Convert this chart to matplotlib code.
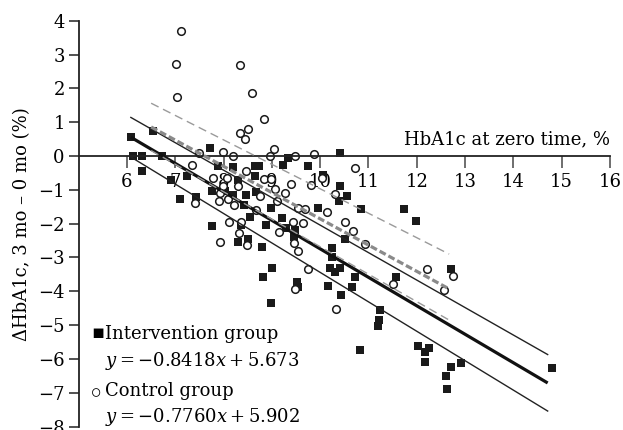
import numpy as np
import matplotlib
matplotlib.use('Agg')
from matplotlib import pyplot as plt

# intervention group (filled squares)
int_x = [6.08, 6.12, 6.31, 6.31, 6.53, 6.72, 7.71, 6.92, 7.25, 7.09,
         7.42, 7.89, 8.19, 7.77, 8.02, 8.29, 8.19, 8.46, 8.42, 8.66,
         8.74, 8.66, 8.67, 8.55, 8.98, 9.22, 9.33, 9.74, 9.96, 9.21,
         10.40, 10.05, 10.40, 10.55, 10.38, 10.85, 11.73, 11.98, 10.51, 10.24,
         10.24, 10.20, 10.40, 10.30, 10.73, 10.17, 10.65, 10.44, 11.58, 11.23,
         11.21, 11.19, 10.82, 12.02, 12.26, 12.16, 12.16, 12.70, 12.91, 12.60,
         12.62, 12.70, 14.79, 7.77, 8.37, 8.29, 8.50, 8.80, 8.87, 9.29,
         9.48, 9.46, 9.00, 8.81, 8.98, 9.53, 9.55]
int_y = [0.55, 0.00, 0.00, -0.45, 0.74, 0.00, 0.24, -0.71, -0.59, -1.28,
         -1.21, -0.29, -0.32, -1.04, -1.04, -0.71, -1.16, -1.15, -1.46, -0.29,
         -0.29, -0.59, -1.06, -1.81, -1.55, -0.27, -0.07, -0.29, -1.55, -1.84,
         0.10, -0.56, -0.89, -1.18, -1.33, -1.58, -1.58, -1.92, -2.46, -2.73,
         -3.00, -3.32, -3.32, -3.42, -3.59, -3.83, -3.88, -4.12, -3.59, -4.54,
         -4.85, -5.03, -5.75, -5.63, -5.69, -5.79, -6.10, -6.25, -6.13, -6.49,
         -6.90, -3.35, -6.28, -2.07, -2.04, -2.55, -2.46, -2.70, -2.04, -2.14,
         -2.19, -2.39, -3.30, -3.59, -4.36, -3.72, -3.88]

# control group (open circles)
ctl_x = [7.12, 7.01, 7.04, 8.33, 8.58, 8.84, 8.34, 8.50, 8.45, 9.04,
         8.96, 9.48, 9.88, 7.50, 7.99, 8.20, 7.35, 7.79, 8.08, 8.46,
         8.83, 8.98, 9.06, 9.40, 9.28, 9.80, 7.98, 8.30, 8.75, 9.10,
         7.91, 8.10, 8.22, 7.40, 8.67, 9.55, 9.68, 10.73, 10.04, 10.31,
         10.15, 9.64, 10.51, 10.67, 10.93, 9.55, 9.74, 10.33, 11.50, 12.22,
         12.76, 12.57, 8.12, 8.37, 8.31, 7.93, 8.48, 9.15, 9.43, 9.46,
         9.48, 7.93]
ctl_y = [3.70, 2.71, 1.73, 2.68, 1.87, 1.09, 0.67, 0.79, 0.49, 0.21,
         0.01, -0.01, 0.05, 0.10, 0.13, 0.01, -0.27, -0.66, -0.64, -0.44,
         -0.68, -0.68, -0.97, -0.82, -1.09, -0.87, -0.88, -0.88, -1.18, -1.32,
         -1.34, -1.28, -1.45, -1.40, -1.60, -1.55, -1.58, -0.35, -0.66, -1.13,
         -1.66, -1.99, -1.95, -2.22, -2.61, -2.82, -3.35, -4.52, -3.77, -3.35,
         -3.55, -3.97, -1.94, -1.94, -2.27, -2.53, -2.63, -2.26, -1.94, -2.58,
         -3.94, -1.10]

# fitted lines and band ends
int_slope, int_icpt = -0.8418, 5.673
int_fit_x = np.array([6.08, 14.71])
int_upper = [1.14, -5.87]
int_lower = [-0.03, -7.54]

ctl_slope, ctl_icpt = -0.7760, 5.902
ctl_fit_x = np.array([6.5, 12.67])
ctl_upper = [1.56, -2.90]
ctl_lower = [0.16, -4.85]

x_ticks = list(range(6, 17))
y_ticks = list(range(-8, 5))

plt.rcParams['font.family'] = ['DejaVu Serif', 'DejaVu Sans']
plt.rcParams['font.size'] = 13
plt.rcParams['mathtext.fontset'] = 'dejavuserif'
plt.rcParams['lines.scale_dashes'] = False

fig = plt.figure(figsize=(6.23, 4.30), dpi=100)
ax = fig.add_axes([0.1263, 0.0079, 0.8528, 0.944])

ax.scatter(int_x, int_y, marker='s', s=30, color='#1a1a1a',
           linewidths=0, zorder=2)
ax.scatter(ctl_x, ctl_y, marker='o', s=30, facecolors='white',
           edgecolors='#1a1a1a', linewidths=1.1, zorder=2)

ax.plot(int_fit_x, int_slope * int_fit_x + int_icpt, color='#111111',
        lw=2.3, zorder=3, solid_capstyle='butt')
ax.plot(int_fit_x, int_upper, color='#222222', lw=1.0, zorder=3)
ax.plot(int_fit_x, int_lower, color='#222222', lw=1.0, zorder=3)

ax.plot(ctl_fit_x, ctl_slope * ctl_fit_x + ctl_icpt, color='#8a8a8a',
        lw=2.3, dashes=(5, 2.2), zorder=3)
ax.plot(ctl_fit_x, ctl_upper, color='#9a9a9a', lw=1.0, dashes=(6, 3.6),
        zorder=3)
ax.plot(ctl_fit_x, ctl_lower, color='#9a9a9a', lw=1.0, dashes=(6, 3.6),
        zorder=3)

ax.set_xlim(5, 16)
ax.set_ylim(-8, 4)
ax.set_xticks(x_ticks)
ax.set_yticks(y_ticks)
ax.spines['top'].set_visible(False)
ax.spines['right'].set_visible(False)
ax.spines['bottom'].set_position(('data', 0))
for side in ('left', 'bottom'):
    ax.spines[side].set_color('#222222')
    ax.spines[side].set_linewidth(1.3)
ax.tick_params(axis='x', direction='out', length=8.5, width=1.2,
               color='#555555', pad=3.5)
ax.tick_params(axis='y', direction='out', length=7.5, width=1.2,
               color='#333333', pad=2.5)
ax.patch.set_alpha(0)

ax.text(16, 0.33, 'HbA1c at zero time, %', ha='right', va='baseline')
ax.text(-0.107, 0.5, 'ΔHbA1c, 3 mo – 0 mo (%)', rotation=90,
        ha='center', va='center', transform=ax.transAxes)

ax.text(5.39, -5.23, '▪', ha='center', va='center',
        family=['DejaVu Sans'], fontsize=14)
ax.text(5.55, -5.42, 'Intervention group', ha='left', va='baseline')
ax.text(5.55, -6.20, r'$y = -0.8418x + 5.673$', ha='left', va='baseline')
ax.text(5.37, -7.06, '◦', ha='center', va='center',
        family=['DejaVu Sans'], fontsize=20)
ax.text(5.55, -7.10, 'Control group', ha='left', va='baseline')
ax.text(5.55, -7.86, r'$y = -0.7760x + 5.902$', ha='left', va='baseline')

plt.savefig('out.png', dpi=100)
